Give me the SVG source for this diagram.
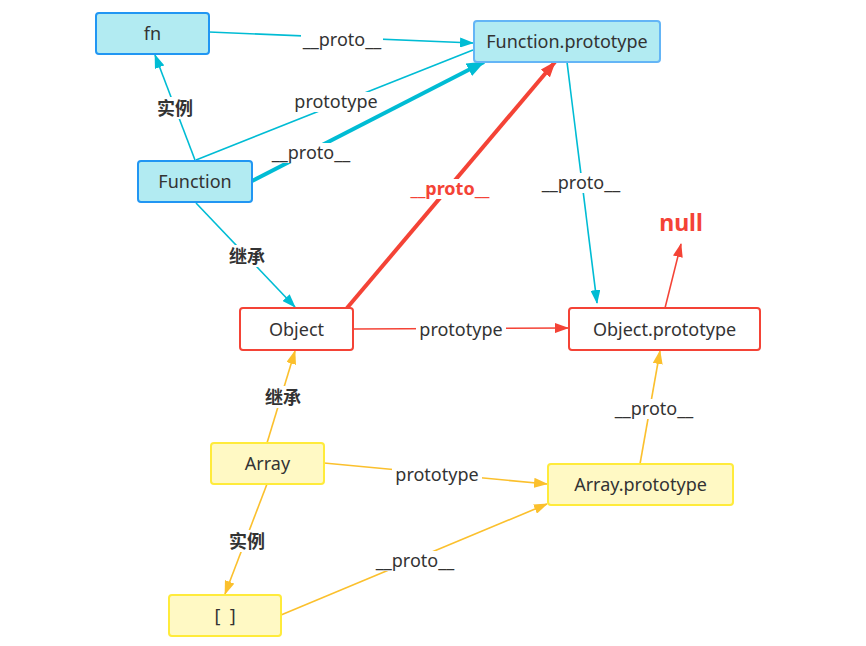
<svg xmlns="http://www.w3.org/2000/svg" width="866" height="646" viewBox="0 0 866 646">
<style>
text{font-family:"Noto Sans","Noto Sans CJK SC",sans-serif;fill:#333;text-anchor:middle;dominant-baseline:central}
.nt{font-size:18px}
.lb{font-size:18px}
.cn{font-size:18px;font-weight:bold}
.c{stroke:#00bcd4;stroke-width:1.6;fill:none}
.r{stroke:#f44336;stroke-width:1.6;fill:none}
.y{stroke:#fbc02d;stroke-width:1.6;fill:none}
.thick{stroke-width:4}
.bg{fill:#fff}
.nb{fill:#b2ebf2;stroke:#2196f3;stroke-width:2}
.nr{fill:#fff;stroke:#f44336;stroke-width:2}
.ny{fill:#fff9c4;stroke:#ffeb3b;stroke-width:2}
</style>
<defs>
<marker id="ac" markerUnits="userSpaceOnUse" markerWidth="14" markerHeight="10" refX="13" refY="5" orient="auto"><path d="M0,0 L14,5 L0,10 Z" fill="#00bcd4"/></marker>
<marker id="acb" markerUnits="userSpaceOnUse" markerWidth="18" markerHeight="14" refX="17" refY="7" orient="auto"><path d="M0,0 L18,7 L0,14 Z" fill="#00bcd4"/></marker>
<marker id="ar" markerUnits="userSpaceOnUse" markerWidth="14" markerHeight="10" refX="13" refY="5" orient="auto"><path d="M0,0 L14,5 L0,10 Z" fill="#f44336"/></marker>
<marker id="arb" markerUnits="userSpaceOnUse" markerWidth="16" markerHeight="12" refX="15" refY="6" orient="auto"><path d="M0,0 L16,6 L0,12 Z" fill="#f44336"/></marker>
<marker id="ay" markerUnits="userSpaceOnUse" markerWidth="14" markerHeight="10" refX="13" refY="5" orient="auto"><path d="M0,0 L14,5 L0,10 Z" fill="#fbc02d"/></marker>
</defs>
<rect width="866" height="646" fill="#fff"/>
<g id="connectors">
  <line class="c" x1="209" y1="32" x2="473" y2="43" marker-end="url(#ac)"/>
  <rect class="bg" x="301" y="30" width="82" height="20"/><text class="lb" x="342" y="39">__proto__</text>
  <line class="c" x1="195" y1="160" x2="155" y2="55" marker-end="url(#ac)"/>
  <rect class="bg" x="154" y="97" width="42" height="22"/><text class="cn" x="175" y="108">实例</text>
  <line class="c" x1="196" y1="160" x2="473" y2="50"/>
  <rect class="bg" x="291" y="92" width="90" height="20"/><text class="lb" x="336" y="101">prototype</text>
  <line class="c thick" x1="252" y1="181" x2="484" y2="62" marker-end="url(#acb)"/>
  <rect class="bg" x="270" y="143" width="82" height="20"/><text class="lb" x="311" y="152">__proto__</text>
  <line class="c" x1="196" y1="203" x2="295" y2="307" marker-end="url(#ac)"/>
  <rect class="bg" x="226" y="245" width="42" height="22"/><text class="cn" x="247" y="256">继承</text>
  <line class="r thick" x1="347" y1="308" x2="555" y2="62" marker-end="url(#arb)"/>
  <rect class="bg" x="407" y="179" width="86" height="20"/><text class="cn" x="450" y="188" style="fill:#f44336">__proto__</text>
  <line class="c" x1="567" y1="62" x2="597" y2="303" marker-end="url(#ac)"/>
  <rect class="bg" x="540" y="173" width="82" height="20"/><text class="lb" x="581" y="182">__proto__</text>
  <line class="r" x1="353" y1="329" x2="568" y2="328" marker-end="url(#ar)"/>
  <rect class="bg" x="416" y="320" width="90" height="20"/><text class="lb" x="461" y="329">prototype</text>
  <line class="r" x1="665" y1="308" x2="681" y2="244" marker-end="url(#ar)"/>
  <line class="y" x1="267" y1="443" x2="295" y2="351" marker-end="url(#ay)"/>
  <rect class="bg" x="262" y="386" width="42" height="22"/><text class="cn" x="283" y="397">继承</text>
  <line class="y" x1="324" y1="463" x2="547" y2="484" marker-end="url(#ay)"/>
  <rect class="bg" x="392" y="465" width="90" height="20"/><text class="lb" x="437" y="474">prototype</text>
  <line class="y" x1="640" y1="464" x2="660" y2="351" marker-end="url(#ay)"/>
  <rect class="bg" x="613" y="399" width="82" height="20"/><text class="lb" x="654" y="408">__proto__</text>
  <line class="y" x1="267" y1="484" x2="225" y2="594" marker-end="url(#ay)"/>
  <rect class="bg" x="226" y="530" width="42" height="22"/><text class="cn" x="247" y="541">实例</text>
  <line class="y" x1="281" y1="615" x2="547" y2="504" marker-end="url(#ay)"/>
  <rect class="bg" x="374" y="551" width="82" height="20"/><text class="lb" x="415" y="560">__proto__</text>
</g>
<g id="fn"><rect class="nb" x="96" y="13" width="113" height="41" rx="3"/><text class="nt" x="152.5" y="33">fn</text></g>
<g id="function-prototype"><rect class="nb" x="474" y="21" width="186" height="41" rx="3" style="stroke:#64b5f6"/><text class="nt" x="567" y="41">Function.prototype</text></g>
<g id="function"><rect class="nb" x="138" y="161" width="114" height="41" rx="3"/><text class="nt" x="195" y="181">Function</text></g>
<g id="object"><rect class="nr" x="240" y="308" width="113" height="42" rx="3"/><text class="nt" x="296.5" y="329">Object</text></g>
<g id="object-prototype"><rect class="nr" x="569" y="308" width="191" height="42" rx="3"/><text class="nt" x="664.5" y="329">Object.prototype</text></g>
<g id="null"><text x="681" y="222" style="font-size:23px;font-weight:bold;fill:#f44336">null</text></g>
<g id="array"><rect class="ny" x="211" y="443" width="113" height="41" rx="3"/><text class="nt" x="267.5" y="463">Array</text></g>
<g id="array-prototype"><rect class="ny" x="548" y="464" width="185" height="41" rx="3"/><text class="nt" x="640.5" y="484">Array.prototype</text></g>
<g id="array-instance"><rect class="ny" x="169" y="595" width="112" height="41" rx="3"/><text class="nt" x="225" y="615" xml:space="preserve">[  ]</text></g>
</svg>
